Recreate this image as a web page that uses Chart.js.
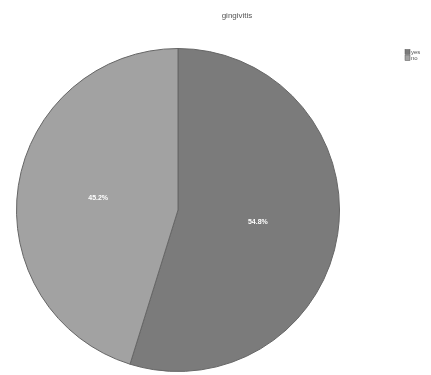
<!DOCTYPE html>
<html>
<head>
<meta charset="utf-8">
<script src="https://cdn.jsdelivr.net/npm/chart.js@4"></script>
<style>
  html, body { margin: 0; padding: 0; background: #fff; }
  #wrap { width: 431px; height: 375px; }
</style>
</head>
<body>
<div id="wrap"><canvas id="pie"></canvas></div>
<script>
// datos
const TITLE = 'gingivitis';
const categories = ['yes', 'no'];
const shares = [54.8, 45.2];
const sliceColors = ['#7b7b7b', '#a2a2a2'];

// título, leyenda y etiquetas dibujados a mano (el original tiene la leyenda suelta arriba a la derecha)
const refText = {
  id: 'refText',
  afterDraw(chart) {
    const ctx = chart.ctx;
    ctx.save();
    ctx.font = '8px "Liberation Sans", Arial, sans-serif';
    ctx.fillStyle = '#555';
    ctx.textAlign = 'center';
    ctx.textBaseline = 'middle';
    ctx.fillText(TITLE, 237, 16);

    // etiquetas de porcentaje
    const meta = chart.getDatasetMeta(0);
    ctx.font = 'bold 7px "Liberation Sans", Arial, sans-serif';
    ctx.fillStyle = '#fff';
    meta.data.forEach((arc, i) => {
      const p = arc.getProps(['x', 'y', 'startAngle', 'endAngle', 'outerRadius']);
      const mid = (p.startAngle + p.endAngle) / 2;
      const r = p.outerRadius * 0.5;
      ctx.fillText(shares[i].toFixed(1) + '%', p.x + Math.cos(mid) * r, p.y + Math.sin(mid) * r);
    });

    // leyenda
    ctx.font = '6px "Liberation Sans", Arial, sans-serif';
    ctx.textAlign = 'left';
    categories.forEach((c, i) => {
      const y = 52 + i * 6;
      ctx.fillStyle = sliceColors[i];
      ctx.fillRect(405, y - 2.5, 5, 5);
      ctx.strokeStyle = '#555';
      ctx.lineWidth = 0.5;
      ctx.strokeRect(405, y - 2.5, 5, 5);
      ctx.fillStyle = '#555';
      ctx.fillText(c, 411, y);
    });
    ctx.restore();
  }
};

new Chart(document.getElementById('pie'), {
  type: 'pie',
  data: {
    labels: categories,
    datasets: [{
      data: shares,
      backgroundColor: sliceColors,
      borderColor: '#666',
      borderWidth: 1
    }]
  },
  options: {
    responsive: true,
    maintainAspectRatio: false,
    animation: false,
    layout: { padding: { left: 15, top: 48, right: 90, bottom: 3 } },
    plugins: {
      legend: { display: false },
      title: { display: false },
      tooltip: { enabled: false }
    }
  },
  plugins: [refText]
});
</script>
</body>
</html>
